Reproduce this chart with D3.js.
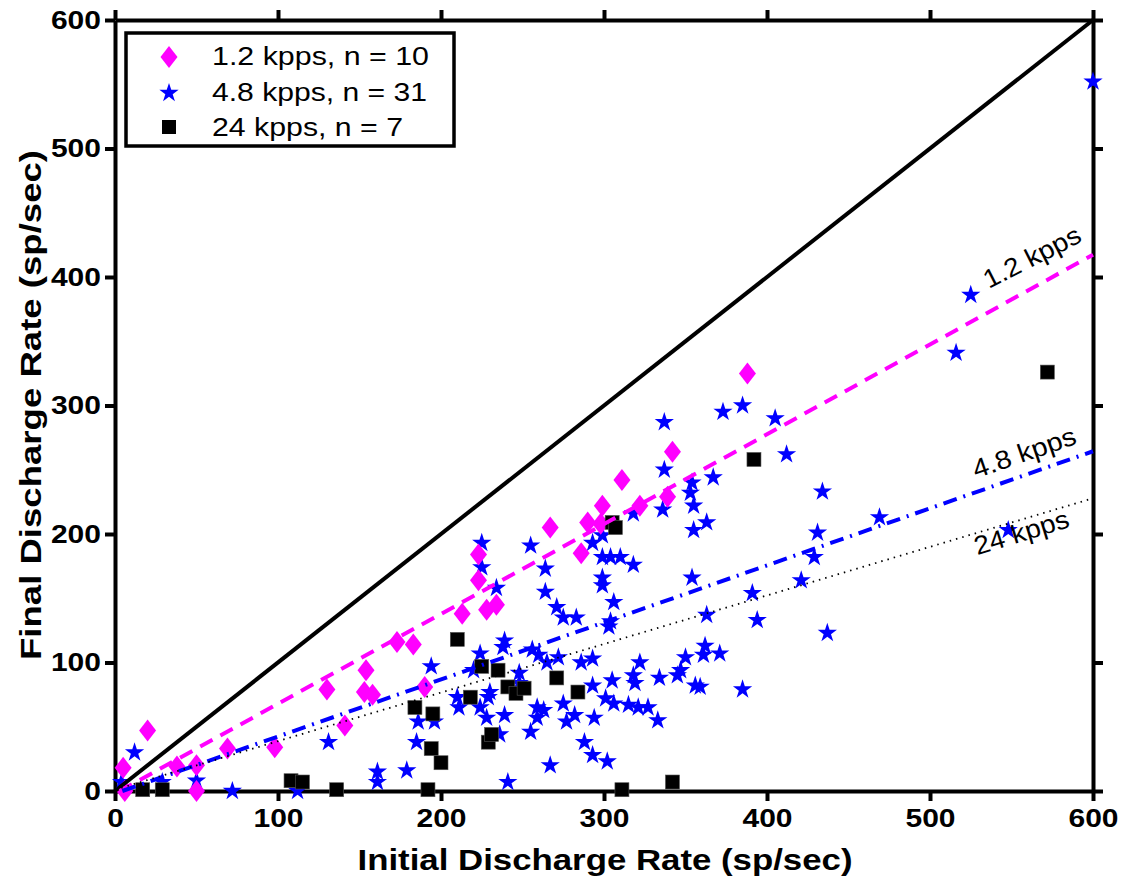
<!DOCTYPE html>
<html>
<head>
<meta charset="utf-8">
<script src="https://cdn.jsdelivr.net/npm/d3@7"></script>
<style>
  body { margin: 0; background: #fff; }
  svg { display: block; }
  text { font-family: "Liberation Sans", Arial, sans-serif; }
</style>
</head>
<body>
<div id="chart"></div>
<script>
// data: [initial rate, final rate] in sp/sec
var pts12 = [[5,18],[6,0],[20,47],[38,19],[50,20],[50,0],[69,33],[98,34],[130,79],[141,51],
  [153,77],[154,94],[158,75],[173,116],[183,114],[190,81],[213,138],[223,164],[223,184],[228,141],
  [234,145],[267,205],[286,185],[290,209],[298,208],[299,222],[311,242],[322,222],[339,229],[342,264],
  [388,325]];

var pts48 = [[4,7],[12,30],[29,7],[50,8],[72,0],[112,0],[131,38],[161,15],[161,7],[179,16],
  [185,38],[186,54],[196,54],[194,97],[210,73],[211,65],[220,94],[224,107],[224,65],[228,57],
  [229,73],[230,77],[236,44],[238,112],[239,117],[239,59],[241,7],[248,92],[248,84],[255,46],
  [256,110],[259,65],[259,57],[260,106],[263,63],[264,155],[264,173],[265,100],[267,20],[271,143],
  [272,104],[275,135],[275,68],[277,54],[282,59],[283,135],[286,100],[288,38],[293,103],[293,82],
  [293,28],[294,57],[299,166],[299,160],[299,182],[299,199],[301,72],[302,23],[304,132],[304,182],
  [305,86],[306,147],[306,68],[310,182],[315,67],[318,176],[318,90],[318,216],[319,84],[321,65],
  [322,100],[327,65],[333,55],[334,88],[336,219],[337,250],[337,287],[345,90],[347,94],[350,104],
  [353,232],[354,166],[354,240],[355,203],[355,222],[356,82],[359,81],[361,106],[362,113],[363,137],
  [363,209],[367,244],[371,107],[373,295],[385,300],[385,79],[391,154],[394,133],[405,290],[412,262],
  [421,164],[429,182],[431,201],[434,233],[437,123],[469,213],[516,341],[525,386],[548,203],[600,552],
  [225,193],[225,174],[234,158],[255,191],[293,193],[303,128]];

var pts24 = [[17,1],[29,1],[108,8],[115,7],[136,1],[184,65],[192,1],[194,33],[195,60],[200,22],
  [210,118],[218,73],[225,97],[229,38],[231,44],[235,94],[241,81],[246,76],[251,80],[271,88],
  [284,77],[305,209],[307,205],[311,1],[342,7],[392,258],[572,326]];

// linear fits: [slope, intercept]
var fit12 = [0.699, -2];
var fit48 = [0.444, -2];
var fit24 = [0.378, 1];

var legendLabels = ["1.2 kpps, n = 10", "4.8 kpps, n = 31", "24 kpps, n = 7"];
var fitLabels = ["1.2 kpps", "4.8 kpps", "24 kpps"];
var ticks = [0, 100, 200, 300, 400, 500, 600];

var W = 1122, H = 877;
var svg = d3.select("#chart").append("svg").attr("width", W).attr("height", H);

var x = d3.scaleLinear().domain([0, 600]).range([115, 1093]);
var y = d3.scaleLinear().domain([0, 600]).range([791, 20]);

function styleAxis(g) {
  g.select(".domain").attr("stroke", "#000").attr("stroke-width", 4);
  g.selectAll(".tick line").attr("stroke", "#000").attr("stroke-width", 4);
  g.selectAll(".tick text").attr("fill", "#000").attr("font-size", 25).attr("font-weight", "bold");
}

svg.append("g").attr("transform", "translate(0,791)")
  .call(d3.axisBottom(x).tickValues(ticks).tickSize(10).tickSizeOuter(0).tickPadding(8))
  .call(styleAxis);
svg.append("g").attr("transform", "translate(0,20)")
  .call(d3.axisTop(x).tickValues(ticks).tickSize(10).tickSizeOuter(0).tickFormat(""))
  .call(styleAxis);
svg.append("g").attr("transform", "translate(115,0)")
  .call(d3.axisLeft(y).tickValues(ticks).tickSize(10).tickSizeOuter(0).tickPadding(4))
  .call(styleAxis);
svg.append("g").attr("transform", "translate(1093,0)")
  .call(d3.axisRight(y).tickValues(ticks).tickSize(10).tickSizeOuter(0).tickFormat(""))
  .call(styleAxis);

// axis titles
svg.append("text").attr("x", 605).attr("y", 870).attr("text-anchor", "middle")
  .attr("font-size", 30).attr("font-weight", "bold")
  .attr("textLength", 495).attr("lengthAdjust", "spacingAndGlyphs")
  .text("Initial Discharge Rate (sp/sec)");
svg.append("text").attr("transform", "translate(41,405) rotate(-90)").attr("text-anchor", "middle")
  .attr("font-size", 30).attr("font-weight", "bold")
  .attr("textLength", 510).attr("lengthAdjust", "spacingAndGlyphs")
  .text("Final Discharge Rate (sp/sec)");

// markers
var star = d3.symbol().type(d3.symbolStar).size(115);
function diamond(w, h) {
  return "M0," + (-h / 2) + "L" + (w / 2) + ",0L0," + (h / 2) + "L" + (-w / 2) + ",0Z";
}

svg.append("g").selectAll("path").data(pts48).enter().append("path")
  .attr("d", star)
  .attr("transform", function (d) { return "translate(" + x(d[0]) + "," + y(d[1]) + ")"; })
  .attr("fill", "#0000ff");

svg.append("g").selectAll("path").data(pts12).enter().append("path")
  .attr("d", diamond(17, 22))
  .attr("transform", function (d) { return "translate(" + x(d[0]) + "," + y(d[1]) + ")"; })
  .attr("fill", "#ff00ff");

svg.append("g").selectAll("rect").data(pts24).enter().append("rect")
  .attr("x", function (d) { return x(d[0]) - 7; })
  .attr("y", function (d) { return y(d[1]) - 7; })
  .attr("width", 14).attr("height", 14)
  .attr("fill", "#000").attr("stroke", "#555").attr("stroke-width", 0.6);

// unity line and fits
var line = d3.line().x(function (d) { return x(d[0]); }).y(function (d) { return y(d[1]); });
svg.append("path").attr("d", line([[0, 0], [600, 600]]))
  .attr("stroke", "#000").attr("stroke-width", 4).attr("fill", "none");

function fitLine(f) {
  var x0 = Math.max(0, -f[1] / f[0]);
  return line([[x0, f[0] * x0 + f[1]], [600, f[0] * 600 + f[1]]]);
}
svg.append("path").attr("d", fitLine(fit12))
  .attr("stroke", "#ff00ff").attr("stroke-width", 4).attr("fill", "none")
  .attr("stroke-dasharray", "14,9");
svg.append("path").attr("d", fitLine(fit48))
  .attr("stroke", "#0000ff").attr("stroke-width", 4).attr("fill", "none")
  .attr("stroke-dasharray", "14,7,2,7");
svg.append("path").attr("d", fitLine(fit24))
  .attr("stroke", "#000").attr("stroke-width", 1.8).attr("fill", "none")
  .attr("stroke-dasharray", "1.5,5");

// fit labels along the lines: [cx, cy, angle, length]
var fitLabelPos = [[1036, 265, -27, 106], [1027, 461, -19, 108], [1024, 541, -17, 98]];
fitLabels.forEach(function (t, i) {
  var p = fitLabelPos[i];
  svg.append("text").attr("transform", "translate(" + p[0] + "," + p[1] + ") rotate(" + p[2] + ")")
    .attr("text-anchor", "middle").attr("font-size", 26)
    .attr("textLength", p[3]).attr("lengthAdjust", "spacingAndGlyphs").text(t);
});

// legend
var leg = svg.append("g");
leg.append("rect").attr("x", 126).attr("y", 33).attr("width", 328).attr("height", 113)
  .attr("fill", "#fff").attr("stroke", "#000").attr("stroke-width", 3.5);
leg.append("path").attr("d", diamond(17, 22)).attr("transform", "translate(169,57)").attr("fill", "#ff00ff");
leg.append("path").attr("d", star).attr("transform", "translate(169,93)").attr("fill", "#0000ff");
leg.append("rect").attr("x", 162).attr("y", 120).attr("width", 14).attr("height", 14).attr("fill", "#000");
var legW = [217, 215, 191];
legendLabels.forEach(function (t, i) {
  leg.append("text").attr("x", 212).attr("y", 65 + i * 35.5)
    .attr("font-size", 26).attr("textLength", legW[i]).attr("lengthAdjust", "spacingAndGlyphs")
    .text(t);
});

// the original lettering is a bit wider than Liberation, stretch the tick labels
svg.selectAll(".tick text").each(function () {
  var w = this.getComputedTextLength();
  d3.select(this).attr("textLength", w * 1.2).attr("lengthAdjust", "spacingAndGlyphs");
});
</script>
</body>
</html>
